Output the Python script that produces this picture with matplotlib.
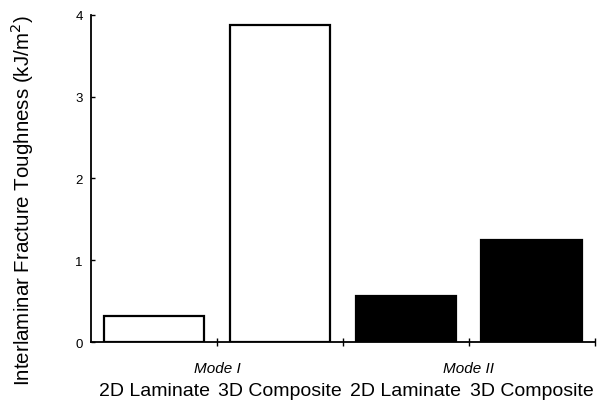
import matplotlib
matplotlib.use("Agg")
import matplotlib.pyplot as plt
from matplotlib import transforms

categories = ["2D Laminate", "3D Composite", "2D Laminate", "3D Composite"]
modes = ["Mode I", "Mode II"]
values = [0.32, 3.87, 0.56, 1.25]
fills = ["white", "white", "black", "black"]
yticks = [0, 1, 2, 3, 4]

plt.rcParams['font.family'] = ['Liberation Sans', 'DejaVu Sans']

fig = plt.figure(figsize=(5.99, 4.06), dpi=100)
ax = fig.add_axes([0.152, 0.155, 0.841, 0.806])

x = list(range(len(values)))
ax.bar(x, values, width=0.8, color=fills, edgecolor="black", linewidth=1.6)

ax.set_xlim(-0.5, 3.5)
ax.set_ylim(0, 4)
ax.set_yticks(yticks)
ax.set_yticklabels([str(t) for t in yticks], fontsize=9.5)
ax.tick_params(axis='y', direction='in', length=3, width=1, pad=6)

ax.set_xticks([0.5, 1.5, 2.5, 3.5])
ax.set_xticklabels([])
ax.tick_params(axis='x', which='major', direction='inout', length=6, width=1)
ax.set_xticks(x, minor=True)
ax.set_xticklabels(categories, minor=True, fontsize=14)
ax.tick_params(axis='x', which='minor', length=0, pad=28.5)

trans = transforms.blended_transform_factory(ax.transData, ax.transAxes)
for i, m in enumerate(modes):
    ax.text(2 * i + 0.5, -0.058, m, transform=trans, ha='center', va='top',
            fontsize=11, style='italic')

ax.spines['top'].set_visible(False)
ax.spines['right'].set_visible(False)
ax.spines['left'].set_linewidth(1.3)
ax.spines['bottom'].set_linewidth(1.3)

fig.text(22 / 599, 1 - 201 / 406, "Interlaminar Fracture Toughness (kJ/m$^2$)",
         rotation=90, ha='center', va='center', fontsize=14.8)

fig.savefig("out.png", dpi=100)
